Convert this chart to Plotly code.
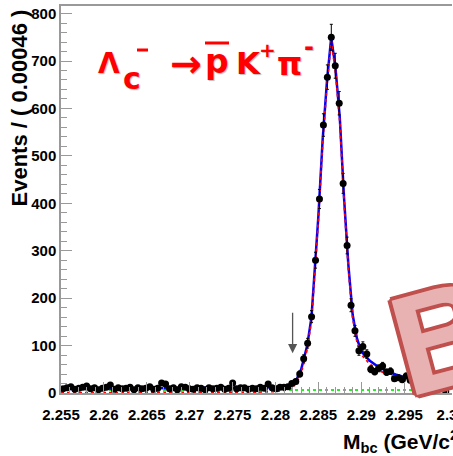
import plotly.graph_objects as go

# ---------------- data ----------------
bin_lo = 2.255
bin_w = 0.00046
counts = [9, 11, 13, 8, 10, 12, 15, 9, 11, 7,
          10, 12, 17, 8, 11, 9, 10, 12, 7, 11,
          9, 10, 13, 8, 10, 21, 19, 9, 11, 7,
          13, 12, 9, 8, 11, 10, 7, 11, 9, 10,
          12, 8, 10, 21, 9, 11, 11, 8, 10, 9,
          12, 10, 19, 11, 9, 12, 12, 13, 20, 24,
          40, 72, 105, 161, 280, 409, 565, 666, 750, 690,
          611, 442, 311, 185, 131, 89, 98, 82, 50, 45,
          52, 57, 44, 46, 30, 32, 28, 36, 27, 28,
          24, 22, 24, 18, 16, 23, 12, 3]
bin_centers = [bin_lo + (i + 0.5) * bin_w for i in range(len(counts))]
errors = [c ** 0.5 for c in counts]

curve_x = [2.255, 2.260, 2.265, 2.270, 2.275, 2.278, 2.280, 2.2810, 2.2815, 2.2820,
           2.2825, 2.2830, 2.2833, 2.2837, 2.2842, 2.2846, 2.2850, 2.2855, 2.2860, 2.2865,
           2.2870, 2.2875, 2.2880, 2.2885, 2.2890, 2.2895, 2.2900, 2.2910, 2.2920, 2.2930,
           2.2940, 2.2950, 2.2960, 2.2970, 2.2980, 2.2990, 2.2995, 2.3000]
total_fit = [8.5, 9, 9.5, 10, 10.5, 11, 12, 13, 15, 20,
             30, 50, 70, 100, 160, 260, 372, 534, 656, 750,
             685, 580, 410, 270, 165, 115, 88, 68, 55, 46,
             39, 34, 30, 26, 21, 13, 8, 2]
signal_fit = [0.5, 0.5, 1, 1, 1.5, 2, 3, 5, 7, 12,
              22, 42, 62, 92, 152, 252, 364, 526, 648, 742,
              677, 572, 402, 262, 157, 108, 81, 61, 48, 40,
              33, 28, 24, 20, 15, 9, 5, 1]
bkg_x = [2.255, 2.265, 2.275, 2.285, 2.295, 2.300]
bkg_y = [6.5, 6.5, 6.6, 6.5, 6.4, 6.3]

cut_x = 2.282
arrow_tip_y = 84
arrow_len_px = 42

x_tickvals = [2.255, 2.26, 2.265, 2.27, 2.275, 2.28, 2.285, 2.29, 2.295, 2.3]
x_ticktext = ["2.255", "2.26", "2.265", "2.27", "2.275", "2.28", "2.285", "2.29", "2.295", "2.3"]
y_tickvals = [0, 100, 200, 300, 400, 500, 600, 700, 800]
y_ticktext = ["0", "100", "200", "300", "400", "500", "600", "700", "800"]

# ---------------- layout geometry ----------------
W, H = 453, 456
L, R, T, B = 61, 1, 6, 63
PW, PH = W - L - R, H - T - B


def px(x):
    return (x - L) / PW


def py(y):
    return (H - B - y) / PH


def bold(s):
    return "<b>" + s + "</b>"


FONT = "Liberation Sans, Arial, sans-serif"
RED_FONT = "DejaVu Sans, sans-serif"

fig = go.Figure()

fig.add_trace(go.Scatter(x=bkg_x, y=bkg_y, mode="lines",
                         line=dict(color="#22ee22", width=2, dash="dot"),
                         hoverinfo="skip", showlegend=False))
fig.add_trace(go.Scatter(x=curve_x, y=total_fit, mode="lines",
                         line=dict(color="#0000ff", width=2.5),
                         hoverinfo="skip", showlegend=False))
fig.add_trace(go.Scatter(x=curve_x, y=signal_fit, mode="lines",
                         line=dict(color="#ff0000", width=1.8, dash="dot"),
                         hoverinfo="skip", showlegend=False))
fig.add_trace(go.Scatter(x=bin_centers, y=counts, mode="markers",
                         marker=dict(color="black", size=7),
                         error_y=dict(type="data", array=errors, color="black",
                                      thickness=1, width=1.5),
                         showlegend=False))

fig.update_layout(
    width=W, height=H,
    margin=dict(l=L, r=R, t=T, b=B, autoexpand=False),
    paper_bgcolor="white", plot_bgcolor="white",
    showlegend=False,
    xaxis=dict(range=[2.255, 2.30058], showgrid=False, zeroline=False,
               automargin=False,
               showline=True, linecolor="#999999", linewidth=1.5, mirror=True,
               ticks="inside", ticklen=11, tickcolor="#999999", tickwidth=1,
               tickvals=x_tickvals, ticktext=[bold(t) for t in x_ticktext],
               minor=dict(dtick=0.001, tick0=2.255, ticks="inside", ticklen=6,
                          tickcolor="#999999", showgrid=False),
               tickfont=dict(family=FONT, size=15, color="black"),
               ticklabeloverflow="allow",
               ticklabelstandoff=7),
    yaxis=dict(range=[0, 816], showgrid=False, zeroline=False,
               automargin=False,
               showline=True, linecolor="#999999", linewidth=1.5,
               ticks="inside", ticklen=11, tickcolor="#999999", tickwidth=1,
               tickvals=y_tickvals, ticktext=[bold(t) for t in y_ticktext],
               minor=dict(dtick=20, tick0=0, ticks="inside", ticklen=6,
                          tickcolor="#999999", showgrid=False),
               tickfont=dict(family=FONT, size=15, color="black"),
               ticklabelstandoff=0),
)

anns = []
# y-axis title
anns.append(dict(text=bold("Events / ( 0.00046 )"), textangle=-90, showarrow=False,
                 xref="paper", yref="paper", x=px(19), y=py(8),
                 xanchor="center", yanchor="top",
                 font=dict(family=FONT, size=22, color="black")))
# x-axis title
anns.append(dict(text=bold("M<sub>bc</sub> (GeV/c<sup>2</sup>)"), showarrow=False,
                 xref="paper", yref="paper", x=px(341), y=py(425),
                 xanchor="left", yanchor="top",
                 font=dict(family=FONT, size=21, color="black")))

red_shadow = "1px 1px 1px #bbbbbb"
# (text, centre x px, centre y px, font size)
red_parts = [
    ("Λ", 109, 63, 28),
    ("c", 132, 78, 30),
    ("→", 186, 64, 38),
    ("p", 217, 61, 33),
    ("K", 248, 63, 31),
    ("+", 267, 50, 20),
    ("π", 289, 64, 32),
    ("-", 309, 47, 24),
]
for txt, cx, cy, sz in red_parts:
    anns.append(dict(text=bold(txt), showarrow=False, xref="paper", yref="paper",
                     x=px(cx), y=py(cy), xanchor="center", yanchor="middle",
                     font=dict(family=RED_FONT, size=sz, color="#ff0000",
                               shadow=red_shadow)))

# cut arrow
anns.append(dict(x=cut_x, y=arrow_tip_y, xref="x", yref="y", text="",
                 showarrow=True, ax=0, ay=-arrow_len_px, arrowhead=2,
                 arrowsize=1.4, arrowwidth=1.3, arrowcolor="#555555"))

# watermark "B"
outline = ", ".join(f"{dx}px {dy}px 0 #c0504d" for dx, dy in
                    [(3, 0), (-3, 0), (0, 3), (0, -3), (2, 2), (-2, -2), (2, -2), (-2, 2),
                     (4, 1), (-4, -1), (1, 4), (-1, -4)])
anns.append(dict(text=bold("B"), showarrow=False, xref="paper", yref="paper",
                 x=px(444), y=py(336), xanchor="center", yanchor="middle",
                 textangle=-15,
                 font=dict(family=FONT, size=142, color="#e8b2b2", shadow=outline)))

fig.update_layout(annotations=anns)

shapes = [
    dict(type="line", xref="paper", yref="paper", x0=px(137), x1=px(148),
         y0=py(50), y1=py(50), line=dict(color="#ff0000", width=3)),
    dict(type="line", xref="paper", yref="paper", x0=px(205), x1=px(229),
         y0=py(43), y1=py(43), line=dict(color="#ff0000", width=3)),
]
fig.update_layout(shapes=shapes)

fig.write_html("out.html")
